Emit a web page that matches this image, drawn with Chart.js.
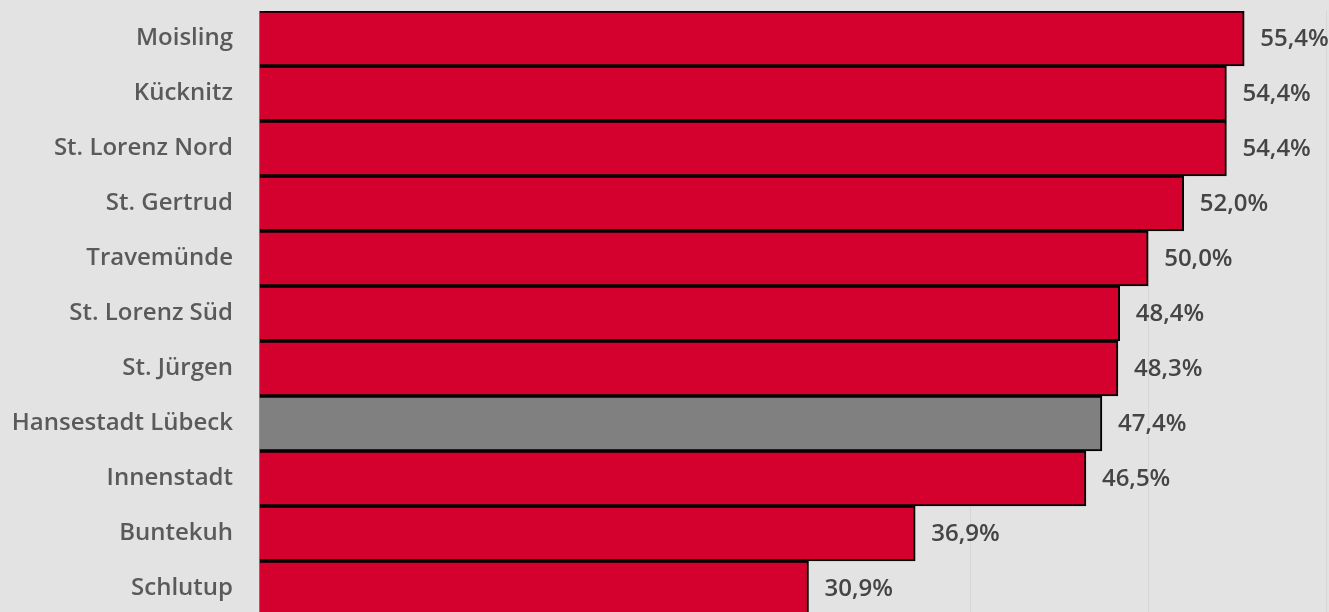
<!DOCTYPE html>
<html lang="de">
<head>
    <meta charset="UTF-8">
    <title>Stadtteile Lübeck</title>
    <script src="https://cdn.jsdelivr.net/npm/chart.js"></script>
    <style>
        html, body { margin: 0; padding: 0; overflow: hidden; background: #e3e3e3; }
    </style>
</head>
<body>
    <canvas id="barChart" width="1329" height="616"></canvas>
    <script>
        const categories = ['Moisling', 'Kücknitz', 'St. Lorenz Nord', 'St. Gertrud', 'Travemünde',
            'St. Lorenz Süd', 'St. Jürgen', 'Hansestadt Lübeck', 'Innenstadt', 'Buntekuh', 'Schlutup'];
        const values = [55.4, 54.4, 54.4, 52.0, 50.0, 48.4, 48.3, 47.4, 46.5, 36.9, 30.9];
        const highlight = 'Hansestadt Lübeck';

        const fmt = v => v.toFixed(1).replace('.', ',') + '%';

        // labels after each bar
        const valueLabels = {
            id: 'valueLabels',
            afterDatasetsDraw(chart) {
                const ctx = chart.ctx;
                const meta = chart.getDatasetMeta(0);
                ctx.save();
                ctx.font = '600 24px "Open Sans"';
                ctx.fillStyle = '#454545';
                ctx.textAlign = 'left';
                ctx.textBaseline = 'middle';
                meta.data.forEach((bar, i) => {
                    ctx.fillText(fmt(values[i]), bar.x + 16, bar.y + 1);
                });
                ctx.restore();
            }
        };

        new Chart(document.getElementById('barChart'), {
            type: 'bar',
            data: {
                labels: categories,
                datasets: [{
                    data: values,
                    backgroundColor: categories.map(c => c === highlight ? '#808080' : '#d4002d'),
                    borderColor: '#000000',
                    borderWidth: 2,
                    barPercentage: 1,
                    categoryPercentage: 1
                }]
            },
            options: {
                indexAxis: 'y',
                responsive: false,
                animation: false,
                layout: { padding: { top: 11, right: 3, bottom: 0, left: 0 } },
                plugins: { legend: { display: false }, tooltip: { enabled: false } },
                scales: {
                    x: {
                        min: 0,
                        max: 60,
                        afterFit(scale) { scale.height = 0; },
                        ticks: { display: false, stepSize: 10 },
                        grid: { color: '#d6d6d6', lineWidth: 1, drawTicks: false },
                        border: { display: false }
                    },
                    y: {
                        afterFit(scale) {
                            scale.width = 259;
                            scale.paddingTop = 0;
                            scale.paddingBottom = 0;
                        },
                        ticks: {
                            color: '#5a5a5a',
                            font: { family: 'Open Sans', size: 24, weight: '600' },
                            padding: 26
                        },
                        grid: { display: false, drawTicks: false },
                        border: { color: '#9a9a9a', width: 1 }
                    }
                }
            },
            plugins: [valueLabels]
        });
    </script>
</body>
</html>
